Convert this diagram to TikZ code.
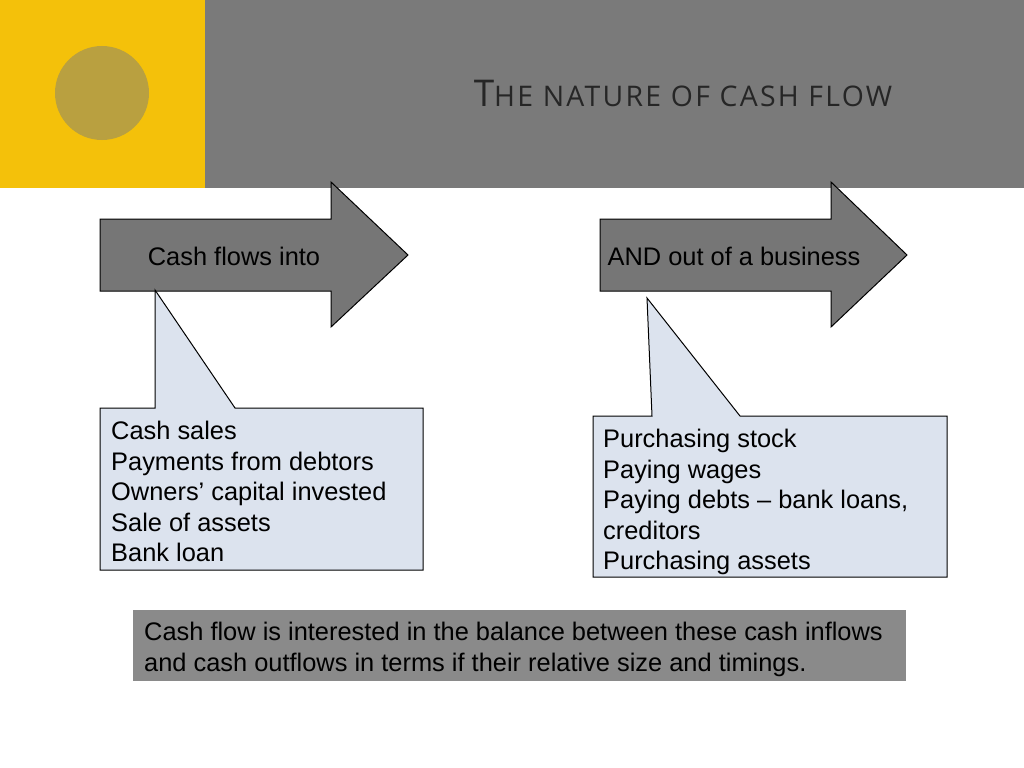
\documentclass[tikz,border=0pt]{standalone}
\usepackage{fontspec}
\setmainfont{Liberation Sans}
\newfontfamily\titlefont[LetterSpace=8]{Open Sans}
\usetikzlibrary{positioning}
\definecolor{hdrgray}{HTML}{7A7A7A}
\definecolor{hdryellow}{HTML}{F4C10A}
\definecolor{dotcol}{HTML}{B9A040}
\definecolor{arrgray}{HTML}{767676}
\definecolor{notefill}{HTML}{DCE3EE}
\definecolor{sumgray}{HTML}{8A8A8A}
\tikzset{
  flowarrow/.style={fill=arrgray,draw=black,line width=1bp,line join=miter},
  note/.style={fill=notefill,draw=black,line width=1bp},
  txt/.style={font=\fontsize{25.5}{30.7}\selectfont,align=left,inner sep=0pt,anchor=north west},
}
\begin{document}
\begin{tikzpicture}[x=1bp,y=-1bp]
\useasboundingbox (0,0) rectangle (1024,768);
%% header
\fill[hdryellow] (0,0) rectangle (205,188);
\fill[hdrgray] (205,0) rectangle (1024,188);
\fill[dotcol] (102,93) circle (47);
\node (title) at (683,93) {\titlefont\color{black!85}\fontsize{37}{45}\selectfont T\fontsize{28.5}{45}\selectfont HE NATURE OF CASH FLOW};
%% arrows
\draw[flowarrow] (100,219) -- (331,219) -- (331,182) -- (408,255) -- (331,327) -- (331,291) -- (100,291) -- cycle;
\draw[flowarrow] (600,219) -- (831,219) -- (831,182) -- (907,255) -- (831,327) -- (831,291) -- (600,291) -- cycle;
\node (into) at (234,256) {\fontsize{25.5}{30}\selectfont Cash flows into};
\node (outof) at (734,256) {\fontsize{25.5}{30}\selectfont AND out of a business};
%% callouts
\coordinate (tipin) at (155,290);
\coordinate (tipout) at (647,298);
\draw[note] (100,408) -- (155,408) -- (tipin) -- (235,408) -- (423,408) -- (423,570) -- (100,570) -- cycle;
\draw[note] (593,416) -- (652,416) -- (tipout) -- (740,416) -- (947,416) -- (947,577) -- (593,577) -- cycle;
\node[txt] (inlist) at (111,421) {Cash sales\\Payments from debtors\\Owners’ capital invested\\Sale of assets\\Bank loan};
\node[txt] (outlist) at (603,429) {Purchasing stock\\Paying wages\\Paying debts – bank loans,\\creditors\\Purchasing assets};
%% summary
\fill[sumgray] (133,610) rectangle (906,681);
\node[txt] (summary) at (144,622) {Cash flow is interested in the balance between these cash inflows\\and cash outflows in terms if their relative size and timings.};
\end{tikzpicture}
\end{document}
